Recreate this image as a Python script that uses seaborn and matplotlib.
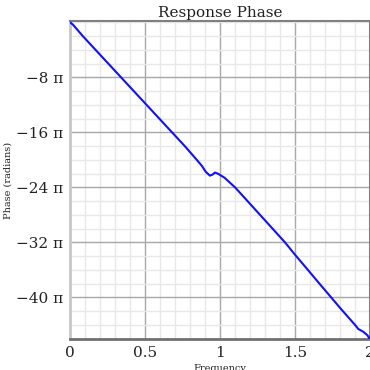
import numpy as np
import pandas as pd
import matplotlib
matplotlib.use("Agg")
import matplotlib.pyplot as plt
import seaborn as sns
from matplotlib.ticker import FixedLocator, MultipleLocator, FuncFormatter

# Data (phase in multiples of pi)
freq = [0.0, 0.02, 0.085, 0.17, 0.255, 0.34, 0.425, 0.51, 0.595, 0.68, 0.765,
        0.845, 0.88, 0.905, 0.933, 0.950, 0.967, 0.989, 1.03, 1.1, 1.167,
        1.25, 1.35, 1.433, 1.5, 1.578, 1.655, 1.733, 1.811, 1.9, 1.922,
        1.955, 1.982, 2.0]
phase_pi = [0.0, -0.35, -2.0, -4.0, -6.0, -8.0, -10.0, -12.0, -14.0, -16.0, -18.0,
            -20.0, -20.9, -21.75, -22.3, -22.15, -21.85, -22.05, -22.6, -24.0, -25.6,
            -27.6, -30.0, -32.0, -33.8, -35.8, -37.8, -39.8, -41.8, -44.0, -44.6,
            -45.0, -45.5, -46.1]
xticks = [0, 0.5, 1, 1.5, 2]
xticklabels = ["0", "0.5", "1", "1.5", "2"]
yticks_pi = [-40, -32, -24, -16, -8]

df = pd.DataFrame({"Frequency": freq,
                   "Phase": np.array(phase_pi) * np.pi})

sns.set_theme(style="white")
plt.rcParams["font.family"] = ["DejaVu Serif"]

fig = plt.figure(figsize=(3.7, 3.7), dpi=100)
ax = fig.add_axes([70 / 370, (370 - 339.3) / 370, 300 / 370, (339.3 - 20.7) / 370])

sns.lineplot(data=df, x="Frequency", y="Phase", ax=ax, color="#1010ff",
             linewidth=1.5, zorder=5)

ax.set_xlim(0, 2)
ax.set_ylim(-46.1 * np.pi, 0.23 * np.pi)

ax.xaxis.set_major_locator(FixedLocator(xticks))
ax.set_xticklabels(xticklabels)
ax.xaxis.set_minor_locator(MultipleLocator(0.1))
ax.yaxis.set_major_locator(FixedLocator([v * np.pi for v in yticks_pi]))
ax.yaxis.set_major_formatter(FuncFormatter(lambda v, p: "\u2212%d \u03c0" % round(-v / np.pi)))
ax.yaxis.set_minor_locator(MultipleLocator(2 * np.pi))

ax.grid(which="minor", color="#e8e8e8", linewidth=1.0, zorder=0)
ax.grid(which="major", color="#a8a8a8", linewidth=1.0, zorder=1)
ax.set_axisbelow(True)

ax.tick_params(axis="x", which="major", direction="inout", length=7, width=1,
               color="#555555", labelsize=11, pad=1, labelcolor="#222222")
ax.tick_params(axis="x", which="minor", direction="in", length=3, width=1, color="#555555")
ax.tick_params(axis="y", which="major", direction="out", length=3, width=1,
               color="#555555", labelsize=11, pad=2, labelcolor="#222222")
ax.tick_params(axis="y", which="minor", direction="out", length=3, width=1, color="#555555")

ax.spines["left"].set_color("#c8c8c8")
ax.spines["left"].set_linewidth(2)
ax.spines["bottom"].set_color("#707070")
ax.spines["bottom"].set_linewidth(2)
ax.spines["top"].set_color("#808080")
ax.spines["top"].set_linewidth(1.5)
ax.spines["right"].set_color("#808080")
ax.spines["right"].set_linewidth(1.5)

ax.set_title("Response Phase", fontsize=11, pad=3, color="#222222")
ax.set_xlabel("Frequency", fontsize=7, labelpad=3, color="#222222")
ax.set_ylabel("Phase (radians)", fontsize=7, labelpad=2, color="#222222")

fig.savefig("out.png", dpi=100)
